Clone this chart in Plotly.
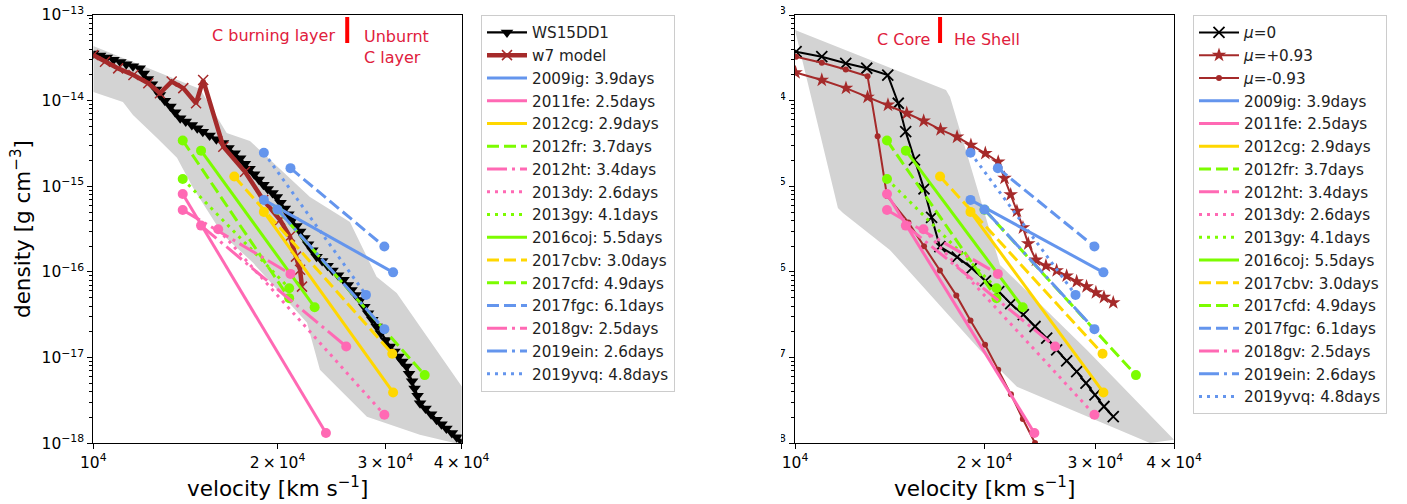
import plotly.graph_objects as go

W, H = 1407, 504

# ---------------- data ----------------
# WS15DD1 model (left panel)
ws_v = [1.000e4, 1.026e4, 1.052e4, 1.079e4, 1.107e4, 1.132e4, 1.161e4, 1.191e4,
        1.209e4, 1.228e4, 1.247e4, 1.266e4, 1.285e4,
        1.309e4, 1.337e4, 1.361e4, 1.387e4,
        1.416e4, 1.449e4, 1.479e4, 1.510e4,
        1.549e4, 1.589e4, 1.629e4,
        1.663e4, 1.702e4, 1.738e4,
        1.769e4, 1.800e4, 1.832e4, 1.864e4, 1.897e4,
        1.928e4, 1.963e4, 1.995e4,
        2.023e4, 2.056e4, 2.084e4, 2.113e4, 2.148e4, 2.178e4,
        2.213e4, 2.244e4, 2.280e4, 2.317e4,
        2.366e4, 2.415e4, 2.460e4, 2.512e4, 2.564e4,
        2.606e4, 2.642e4, 2.685e4, 2.729e4,
        2.773e4, 2.812e4, 2.858e4, 2.904e4,
        2.951e4, 3.006e4, 3.055e4,
        3.105e4, 3.155e4, 3.199e4, 3.251e4,
        3.281e4, 3.319e4, 3.350e4, 3.388e4, 3.420e4,
        3.491e4, 3.565e4, 3.639e4,
        3.707e4, 3.776e4, 3.855e4, 3.926e4, 4.000e4]
ws_rho = [3.56e-14, 3.36e-14, 3.18e-14, 3.00e-14, 2.83e-14, 2.67e-14, 2.53e-14, 2.39e-14,
          2.07e-14, 1.79e-14, 1.55e-14, 1.35e-14, 1.165e-14,
          9.95e-15, 8.53e-15, 7.30e-15, 6.24e-15,
          5.70e-15, 5.21e-15, 4.75e-15, 4.35e-15,
          3.93e-15, 3.55e-15, 3.21e-15,
          2.80e-15, 2.44e-15, 2.13e-15,
          1.84e-15, 1.60e-15, 1.38e-15, 1.20e-15, 1.04e-15,
          9.31e-16, 8.38e-16, 7.52e-16,
          6.43e-16, 5.51e-16, 4.71e-16, 4.04e-16, 3.45e-16, 2.96e-16,
          2.50e-16, 2.11e-16, 1.79e-16, 1.51e-16,
          1.34e-16, 1.18e-16, 1.04e-16, 9.16e-17, 8.09e-17,
          7.07e-17, 6.18e-17, 5.40e-17, 4.72e-17,
          3.94e-17, 3.30e-17, 2.76e-17, 2.31e-17,
          1.93e-17, 1.61e-17, 1.35e-17,
          1.18e-17, 1.03e-17, 8.99e-18, 7.87e-18,
          6.47e-18, 5.31e-18, 4.37e-18, 3.58e-18, 2.94e-18,
          2.54e-18, 2.18e-18, 1.88e-18,
          1.67e-18, 1.49e-18, 1.32e-18, 1.18e-18, 1.05e-18]

# W7 model (left panel)
w7_v = [1.000e4, 1.045e4, 1.098e4, 1.163e4, 1.230e4, 1.285e4, 1.343e4, 1.403e4, 1.472e4,
        1.512e4, 1.631e4, 1.770e4, 1.896e4, 2.019e4, 2.096e4, 2.144e4, 2.177e4, 2.193e4]
w7_rho = [3.41e-14, 2.85e-14, 2.38e-14, 1.99e-14, 1.60e-14, 1.22e-14, 1.67e-14, 1.40e-14, 9.33e-15,
          1.74e-14, 2.90e-15, 1.48e-15, 6.94e-16, 4.06e-16, 2.59e-16, 1.51e-16, 1.06e-16, 6.75e-17]

# viewing-angle models (right panel)
mu0_v = [1.004e4, 1.103e4, 1.204e4, 1.300e4, 1.404e4, 1.459e4, 1.499e4, 1.548e4, 1.603e4,
         1.648e4, 1.699e4, 1.810e4, 1.909e4, 2.007e4, 2.107e4, 2.201e4, 2.305e4, 2.406e4,
         2.511e4, 2.604e4, 2.701e4, 2.802e4, 2.899e4, 2.996e4, 3.096e4, 3.203e4]
mu0_rho = [3.73e-14, 3.26e-14, 2.73e-14, 2.39e-14, 1.99e-14, 9.33e-15, 4.35e-15, 2.03e-15, 9.33e-16,
           4.34e-16, 1.98e-16, 1.49e-16, 1.11e-16, 7.87e-17, 5.90e-17, 4.27e-17, 3.18e-17, 2.31e-17,
           1.69e-17, 1.23e-17, 9.18e-18, 6.88e-18, 5.04e-18, 3.68e-18, 2.69e-18, 2.05e-18]

mup_v = [1.002e4, 1.103e4, 1.205e4, 1.304e4, 1.405e4, 1.505e4, 1.601e4, 1.703e4, 1.809e4,
         1.903e4, 2.006e4, 2.103e4, 2.152e4, 2.201e4, 2.252e4, 2.302e4, 2.347e4, 2.414e4,
         2.504e4, 2.604e4, 2.701e4, 2.802e4, 2.905e4, 3.006e4, 3.096e4, 3.203e4]
mup_rho = [2.13e-14, 1.74e-14, 1.40e-14, 1.10e-14, 8.91e-15, 7.13e-15, 5.80e-15, 4.59e-15, 3.77e-15,
           3.02e-15, 2.43e-15, 1.93e-15, 1.25e-15, 8.00e-16, 5.14e-16, 3.29e-16, 2.14e-16, 1.38e-16,
           1.18e-16, 1.04e-16, 9.01e-17, 7.73e-17, 6.75e-17, 5.75e-17, 5.08e-17, 4.39e-17]

mum_v = [1.004e4, 1.103e4, 1.204e4, 1.304e4, 1.353e4, 1.400e4, 1.514e4, 1.603e4,
         1.699e4, 1.804e4, 1.900e4, 2.004e4, 2.103e4, 2.203e4, 2.301e4, 2.406e4]
mum_rho = [3.26e-14, 2.77e-14, 2.31e-14, 1.93e-14, 3.84e-15, 7.73e-16, 3.79e-16, 2.00e-16,
           1.04e-16, 5.33e-17, 2.72e-17, 1.41e-17, 7.20e-18, 3.73e-18, 1.92e-18, 1.01e-18]

# grey envelopes
band1_v = [1.000e4, 1.421e4, 1.494e4, 1.652e4, 1.803e4, 2.260e4, 2.627e4, 2.904e4, 3.132e4, 4.005e4,
           4.005e4, 3.417e4, 2.800e4, 2.346e4, 2.235e4, 1.824e4, 1.629e4, 1.456e4, 1.370e4,
           1.271e4, 1.161e4, 1.118e4, 1.000e4]
band1_rho = [4.35e-14, 1.60e-14, 1.37e-14, 4.20e-15, 3.39e-15, 7.52e-16, 3.84e-16, 8.77e-17, 5.70e-17, 4.56e-18,
             9.6e-19, 1.26e-18, 2.04e-18, 7.2e-18, 2.55e-17, 1.28e-16, 2.71e-16, 9.58e-16, 2.15e-15,
             3.67e-15, 6.81e-15, 9.66e-15, 1.26e-14]

band2_v = [1.000e4, 1.737e4, 1.763e4, 2.004e4, 2.117e4, 2.909e4, 4.000e4, 3.663e4, 2.252e4,
           1.967e4, 1.415e4, 1.192e4, 1.170e4]
band2_rho = [6.68e-14, 1.33e-14, 1.10e-14, 4.64e-16, 1.21e-16, 1.23e-17, 1.10e-18, 1.01e-18, 4.56e-18,
             1.23e-17, 1.81e-16, 4.89e-16, 5.60e-16]

# supernovae
sn_names = ["2009ig", "2011fe", "2012cg", "2012fr", "2012ht", "2013dy", "2013gy",
            "2016coj", "2017cbv", "2017cfd", "2017fgc", "2018gv", "2019ein", "2019yvq"]
sn_days = [3.9, 2.5, 2.9, 3.7, 3.4, 2.6, 4.1, 5.5, 3.0, 4.9, 6.1, 2.5, 2.6, 4.8]
sn_v_start = [1.90e4, 1.40e4, 1.90e4, 1.40e4, 1.50e4, 1.60e4, 1.40e4,
              1.50e4, 1.70e4, 2.00e4, 2.10e4, 1.40e4, 2.00e4, 1.90e4]
sn_v_end = [3.09e4, 2.40e4, 3.09e4, 2.09e4, 2.59e4, 2.99e4, 2.09e4,
            2.30e4, 3.08e4, 3.48e4, 2.99e4, 2.10e4, 2.99e4, 2.79e4]
sn_rho_start = [6.94e-16, 8.15e-16, 5.03e-16, 3.43e-15, 3.48e-16, 3.16e-16, 1.22e-15,
                2.61e-15, 1.30e-15, 5.33e-16, 1.63e-15, 5.30e-16, 5.35e-16, 2.47e-15]
sn_rho_end = [9.9e-17, 1.32e-18, 3.92e-18, 4.95e-17, 1.35e-17, 2.15e-18, 6.47e-17,
              3.88e-17, 1.11e-17, 6.25e-18, 1.98e-16, 9.50e-17, 2.15e-17, 5.40e-17]

# layer boundaries
bound_v = [2.6e4, 1.70e4]
bound_rho = [9.5e-14, 4.7e-14]

# ---------------- styles ----------------
BLUE, PINK, GOLD, GREEN = "#6495ED", "#FF69B4", "#FFD700", "#7CFC00"
BROWN, GREY, TXT_RED = "#A52A2A", "#D3D3D3", "#E0203C"
sn_colors = [BLUE, PINK, GOLD, GREEN, PINK, PINK, GREEN, GREEN, GOLD, GREEN, BLUE, PINK, BLUE, BLUE]
DASH, DOT, DASHDOT = "12px,5px", "3px,5px", "20px,5px,3px,5px"
sn_dash = ["solid", "solid", "solid", DASH, DASHDOT, DOT, DOT, "solid", DASH, DASH, DASH, DASHDOT, DASHDOT, DOT]

FONT = "DejaVu Sans"
fig = go.Figure()

def px_x(p):
    return p / W

def px_y(p):
    return 1 - p / H

# ---- left panel ----
fig.add_trace(go.Scatter(x=band1_v, y=band1_rho, fill="toself", fillcolor=GREY, mode="lines",
                         line=dict(width=0, color=GREY), showlegend=False, hoverinfo="skip",
                         xaxis="x", yaxis="y"))
fig.add_trace(go.Scatter(x=ws_v, y=ws_rho, mode="lines+markers", name="WS15DD1",
                         line=dict(color="black", width=2.3),
                         marker=dict(symbol="triangle-down", size=11, color="black"),
                         xaxis="x", yaxis="y", legend="legend"))
fig.add_trace(go.Scatter(x=w7_v, y=w7_rho, mode="lines+markers", name="w7 model",
                         line=dict(color=BROWN, width=4.5),
                         marker=dict(symbol="x-thin", size=10, color=BROWN, line=dict(width=1.5, color=BROWN)),
                         xaxis="x", yaxis="y", legend="legend"))
fig.add_trace(go.Scatter(x=[bound_v[0]] * 2, y=bound_rho, mode="lines", line=dict(color="red", width=4),
                         showlegend=False, hoverinfo="skip", xaxis="x", yaxis="y"))

# ---- right panel ----
fig.add_trace(go.Scatter(x=band2_v, y=band2_rho, fill="toself", fillcolor=GREY, mode="lines",
                         line=dict(width=0, color=GREY), showlegend=False, hoverinfo="skip",
                         xaxis="x2", yaxis="y2"))
fig.add_trace(go.Scatter(x=mu0_v, y=mu0_rho, mode="lines+markers", name="<i>μ</i>=0",
                         line=dict(color="black", width=2),
                         marker=dict(symbol="x-thin", size=11, color="black", line=dict(width=1.8, color="black")),
                         xaxis="x2", yaxis="y2", legend="legend2"))
fig.add_trace(go.Scatter(x=mup_v, y=mup_rho, mode="lines+markers", name="<i>μ</i>=+0.93",
                         line=dict(color=BROWN, width=2),
                         marker=dict(symbol="star", size=11, color=BROWN),
                         xaxis="x2", yaxis="y2", legend="legend2"))
fig.add_trace(go.Scatter(x=mum_v, y=mum_rho, mode="lines+markers", name="<i>μ</i>=-0.93",
                         line=dict(color=BROWN, width=2),
                         marker=dict(symbol="circle", size=6, color=BROWN),
                         xaxis="x2", yaxis="y2", legend="legend2"))
fig.add_trace(go.Scatter(x=[bound_v[1]] * 2, y=bound_rho, mode="lines", line=dict(color="red", width=4),
                         showlegend=False, hoverinfo="skip", xaxis="x2", yaxis="y2"))

# ---- supernovae in both panels ----
for xa, ya, lg in [("x", "y", "legend"), ("x2", "y2", "legend2")]:
    for i, nm in enumerate(sn_names):
        vx = [sn_v_start[i], sn_v_end[i]]
        ry = [sn_rho_start[i], sn_rho_end[i]]
        fig.add_trace(go.Scatter(x=vx, y=ry, mode="lines", name=f"{nm}: {sn_days[i]:.1f}days",
                                 line=dict(color=sn_colors[i], width=3, dash=sn_dash[i]),
                                 xaxis=xa, yaxis=ya, legend=lg))
        fig.add_trace(go.Scatter(x=vx, y=ry, mode="markers", showlegend=False,
                                 marker=dict(symbol="circle", size=10, color=sn_colors[i]),
                                 xaxis=xa, yaxis=ya))

# ---------------- axes ----------------
ytickv = [1e-18, 1e-17, 1e-16, 1e-15, 1e-14, 1e-13]
ytickt = [f"10<sup>−{e}</sup>" for e in (18, 17, 16, 15, 14, 13)]
yminor = [k * 10.0 ** e for e in range(-18, -13) for k in range(2, 10)]
xtickv = [1e4, 2e4, 3e4, 4e4]
xtickt = ["10<sup>4</sup>", "2\u2009×\u200910<sup>4</sup>", "3\u2009×\u200910<sup>4</sup>", "4\u2009×\u200910<sup>4</sup>"]

tickfont = dict(family=FONT, size=15.5, color="black")
common = dict(type="log", showgrid=False, zeroline=False, showline=True, linecolor="black",
              linewidth=1.1, mirror=True, ticks="outside", ticklen=5, tickwidth=1.1,
              tickcolor="black", tickfont=tickfont, automargin=False, ticklabeloverflow="allow")
xcommon = dict(common, range=[4, 4.60206], tickmode="array", tickvals=xtickv, ticktext=xtickt)
ycommon = dict(common, range=[-18, -13], tickmode="array", tickvals=ytickv, ticktext=ytickt,
               minor=dict(tickmode="array", tickvals=yminor, ticks="outside", ticklen=3,
                          tickwidth=0.8, tickcolor="black"))

ydom = [px_y(443.3), px_y(15)]
fig.update_layout(
    xaxis=dict(xcommon, domain=[px_x(93.3), px_x(461.7)], anchor="y"),
    yaxis=dict(ycommon, domain=ydom, anchor="x"),
    xaxis2=dict(xcommon, domain=[px_x(795), px_x(1174)], anchor="y2"),
    yaxis2=dict(ycommon, domain=ydom, anchor="x2"),
)

legfont = dict(family=FONT, size=15.2, color="#222222")
leg_common = dict(xanchor="left", yanchor="top", y=px_y(15), bgcolor="white",
                  bordercolor="#cccccc", borderwidth=1, font=legfont, itemwidth=40,
                  tracegroupgap=0)
fig.update_layout(
    legend=dict(leg_common, x=px_x(481)),
    legend2=dict(leg_common, x=px_x(1193)),
)

annots = []
tf = dict(family=FONT, size=16, color=TXT_RED)
annots.append(dict(text="C burning layer", x=px_x(337), y=px_y(36), xanchor="right", yanchor="middle", font=tf))
annots.append(dict(text="Unburnt<br>C layer", x=px_x(362), y=px_y(47), xanchor="left", yanchor="middle",
                   align="left", font=tf))
annots.append(dict(text="C Core", x=px_x(932), y=px_y(40), xanchor="right", yanchor="middle", font=tf))
annots.append(dict(text="He Shell", x=px_x(952), y=px_y(40), xanchor="left", yanchor="middle", font=tf))
lf = dict(family=FONT, size=21.5, color="black")
annots.append(dict(text="density [g cm<sup>−3</sup>]", x=px_x(21), y=px_y(229), textangle=-90,
                   xanchor="center", yanchor="middle", font=lf))
annots.append(dict(text="velocity [km s<sup>−1</sup>]", x=px_x(277), y=px_y(487), xanchor="center",
                   yanchor="middle", font=lf))
annots.append(dict(text="velocity [km s<sup>−1</sup>]", x=px_x(984.5), y=px_y(487), xanchor="center",
                   yanchor="middle", font=lf))
for a in annots:
    a.update(xref="paper", yref="paper", showarrow=False)

fig.update_layout(
    template="none",
    width=W, height=H, autosize=False,
    margin=dict(l=0, r=0, t=0, b=0, pad=0),
    paper_bgcolor="white", plot_bgcolor="white",
    annotations=annots,
    shapes=[dict(type="rect", xref="paper", yref="paper", x0=px_x(690), x1=px_x(781), y0=0, y1=1,
                 fillcolor="white", line=dict(width=0), layer="above")],
    font=dict(family=FONT, color="black"),
)

# remove the browser's default 8px page margin so the figure fills the window exactly
fig.write_html("out.html", config={"displayModeBar": False},
               post_script="document.body.style.margin='0px';document.body.style.overflow='hidden';")
